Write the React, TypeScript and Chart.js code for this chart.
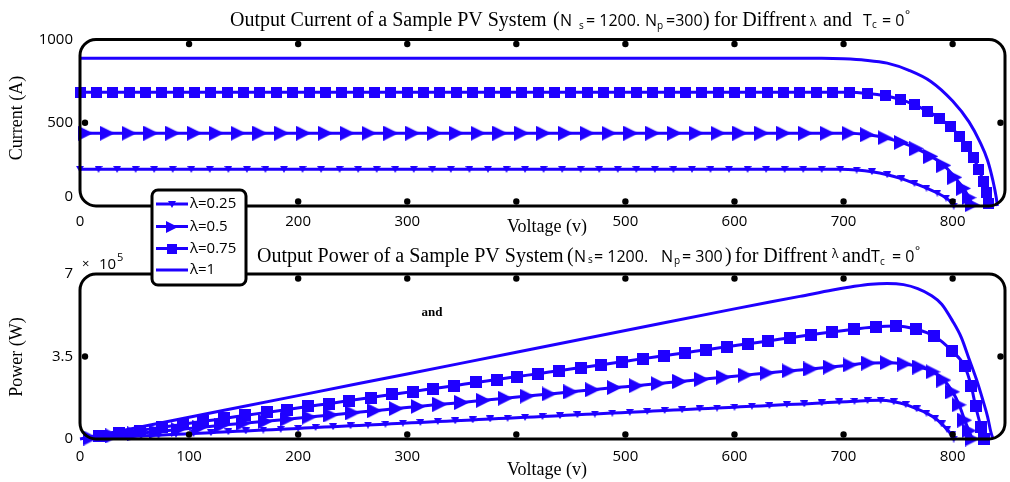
import { useEffect, useRef } from 'react';
import { Chart, registerables } from 'chart.js';

Chart.register(...registerables);

const BLUE = '#1f00ff';
const SERIF = '"Liberation Serif", "Times New Roman", serif';
const SANS = '"Open Sans", "Noto Sans", sans-serif';

const legendLabels = ['λ=0.25', 'λ=0.5', 'λ=0.75', 'λ=1'];

const X_MAX = 848;
const xTicks = [0, 100, 200, 300, 400, 500, 600, 700, 800];
const xTickLabels = ['0', '100', '200', '300', '', '500', '600', '700', '800'];
const currentTicks = [0, 500, 1000];
const currentTickLabels = ['0', '500', '1000'];
const powerTicks = [0, 3.5, 7];
const powerTickLabels = ['0', '3.5', '7'];

// ---------- Output current (A) vs voltage (V) ----------
const curV025 = [0, 17, 34, 51, 68, 85, 102, 119, 136, 153, 170, 187, 204, 221, 238, 255, 272, 289, 306, 323, 340, 357, 374, 391, 408, 425, 442, 459, 476, 493, 510, 527, 544, 561, 578, 595, 612, 629, 646, 663, 680, 697,
  712, 726, 740, 753, 765, 776, 786, 794, 799, 801];
const curI025 = [220, 220, 220, 220, 220, 220, 220, 220, 220, 220, 220, 220, 220, 220,
  220, 220, 220, 220, 220, 220, 220, 220, 220, 220, 220, 220, 220, 220,
  220, 220, 220, 220, 220, 220, 220, 220, 220, 220, 220, 220, 220, 220,
  216, 206, 188, 164, 136, 108, 78, 48, 20, 0];

const curV05 = [5, 25, 45, 65, 85, 105, 125, 145, 165, 185, 205, 225, 245, 265, 285, 305, 325, 345, 365, 385, 405, 425, 445, 465, 485, 505, 525, 545, 565, 585, 605, 625, 645, 665, 685, 705,
  722, 738, 753, 767, 780, 792, 802, 810, 815, 818];
const curI05 = [437, 437, 437, 437, 437, 437, 437, 437, 437, 437, 437, 437,
  437, 437, 437, 437, 437, 437, 437, 437, 437, 437, 437, 437,
  437, 437, 437, 437, 437, 437, 437, 437, 437, 437, 437, 437,
  428, 410, 382, 344, 298, 244, 172, 106, 50, 8];

const curV075 = [0, 15, 30, 45, 60, 75, 90, 105, 120, 135, 150, 165, 180, 195, 210, 225, 240, 255, 270, 285, 300, 315, 330, 345, 360, 375, 390, 405, 420, 435, 450, 465, 480, 495, 510, 525, 540, 555, 570, 585, 600, 615, 630, 645, 660, 675, 690, 705,
  722, 738, 752, 765, 777, 788, 798, 806, 813, 819, 824, 828, 831, 833];
const curI075 = [683, 683, 683, 683, 683, 683, 683, 683, 683, 683, 683, 683,
  683, 683, 683, 683, 683, 683, 683, 683, 683, 683, 683, 683,
  683, 683, 683, 683, 683, 683, 683, 683, 683, 683, 683, 683,
  683, 683, 683, 683, 683, 683, 683, 683, 683, 683, 683, 683,
  676, 662, 640, 608, 570, 526, 476, 420, 356, 290, 220, 150, 80, 15];

const curV1 = [0, 100, 200, 300, 400, 500, 600, 680, 700, 720, 740, 760, 780, 800, 815, 825, 832, 837, 840, 841];
const curI1 = [888, 888, 888, 888, 888, 888, 888, 887, 884, 876, 858, 815, 748, 630, 505, 385, 275, 150, 50, 0];

// ---------- Output power (x10^5 W) vs voltage (V) ----------
const powV025 = [8, 24, 40, 56, 72, 88, 104, 120, 136, 152, 168, 184, 200, 216, 232, 248, 264, 280, 296, 312, 328, 344, 360, 376, 392, 408, 424, 440, 456, 472, 488, 504, 520, 536, 552, 568, 584, 600, 616, 632, 648, 664, 680, 696,
  710, 722, 734, 746, 757, 767, 776, 784, 790, 795, 799, 801];
const powP025 = [0.02, 0.05, 0.09, 0.13, 0.16, 0.2, 0.23, 0.27, 0.31, 0.34, 0.38, 0.41, 0.45, 0.49, 0.52, 0.56, 0.59, 0.63, 0.67, 0.7, 0.74, 0.77, 0.81, 0.85, 0.88, 0.92, 0.95, 0.99, 1.03, 1.06, 1.1, 1.13, 1.17, 1.21, 1.24, 1.28, 1.31, 1.35, 1.39, 1.42, 1.46, 1.49, 1.53, 1.57,
  1.6, 1.63, 1.64, 1.58, 1.46, 1.28, 1.1, 0.88, 0.64, 0.4, 0.18, 0];

const powV05 = [10, 30, 50, 70, 90, 110, 130, 150, 170, 190, 210, 230, 250, 270, 290, 310, 330, 350, 370, 390, 410, 430, 450, 470, 490, 510, 530, 550, 570, 590, 610, 630, 650, 670,
  688, 706, 723, 740, 756, 770, 782, 792, 800, 806, 811, 815, 818];
const powP05 = [0.04, 0.13, 0.22, 0.31, 0.4, 0.49, 0.58, 0.67, 0.75, 0.84, 0.93, 1.02, 1.11, 1.2, 1.29, 1.38, 1.47, 1.55, 1.64, 1.73, 1.82, 1.91, 2.0, 2.09, 2.18, 2.26, 2.35, 2.44, 2.53, 2.62, 2.71, 2.8, 2.89, 2.97,
  3.05, 3.14, 3.22, 3.24, 3.18, 3.05, 2.85, 2.5, 2.0, 1.45, 0.8, 0.35, 0];

const powV075 = [17, 36, 55, 75, 94, 113, 132, 151, 171, 190, 209, 228, 247, 267, 286, 305, 324, 343, 363, 382, 401, 420, 439, 459, 478, 497, 516, 535, 555, 574, 593, 612, 631, 651, 670,
  689, 710, 730, 748, 766, 783, 799, 811, 817, 821, 826, 829];
const powP075 = [0.11, 0.24, 0.36, 0.5, 0.62, 0.75, 0.87, 1.0, 1.13, 1.25, 1.38, 1.5, 1.63, 1.76, 1.89, 2.01, 2.14, 2.26, 2.4, 2.52, 2.65, 2.77, 2.9, 3.03, 3.15, 3.28, 3.41, 3.53, 3.66, 3.79, 3.91, 4.04, 4.16, 4.3, 4.42,
  4.54, 4.66, 4.76, 4.79, 4.66, 4.37, 3.75, 3.08, 2.25, 1.4, 0.5, 0];

const powV1 = [0, 100, 200, 300, 400, 500, 600, 660, 690, 710, 725, 740, 755, 768, 780, 790, 800, 808, 815, 822, 828, 832, 835, 837];
const powP1 = [0, 0.92, 1.84, 2.76, 3.68, 4.6, 5.52, 6.05, 6.32, 6.48, 6.57, 6.6, 6.55, 6.38, 6.1, 5.72, 5.0, 4.3, 3.4, 2.5, 1.6, 0.95, 0.3, 0];

type Run = { t: string; x: number; y: number; f: string };

const topTitle: Run[] = [
  { t: 'Output Current of a Sample PV System', x: 230, y: 26, f: `20px ${SERIF}` },
  { t: '(', x: 553, y: 26, f: `20px ${SERIF}` },
  { t: 'N', x: 560, y: 26, f: `16px ${SANS}` },
  { t: 's', x: 579, y: 29, f: `10px ${SANS}` },
  { t: '= 1200.', x: 586, y: 26, f: `16px ${SANS}` },
  { t: 'N', x: 645, y: 26, f: `16px ${SANS}` },
  { t: 'p', x: 657, y: 29, f: `10px ${SANS}` },
  { t: '=300', x: 666, y: 26, f: `16px ${SANS}` },
  { t: ')', x: 703, y: 26, f: `20px ${SERIF}` },
  { t: 'for Diffrent', x: 714, y: 26, f: `20px ${SERIF}` },
  { t: 'λ', x: 810, y: 26, f: `12px ${SANS}` },
  { t: 'and', x: 823, y: 26, f: `20px ${SERIF}` },
  { t: 'T', x: 863, y: 26, f: `16px ${SANS}` },
  { t: 'c', x: 872, y: 28, f: `10px ${SANS}` },
  { t: '= 0', x: 882, y: 26, f: `16px ${SANS}` },
  { t: '°', x: 905, y: 19, f: `12px ${SANS}` },
];

const botTitle: Run[] = [
  { t: 'Output Power of a Sample PV System', x: 257, y: 262, f: `20px ${SERIF}` },
  { t: '(', x: 567, y: 262, f: `20px ${SERIF}` },
  { t: 'N', x: 574, y: 262, f: `16px ${SANS}` },
  { t: 's', x: 588, y: 263, f: `10px ${SANS}` },
  { t: '= 1200.', x: 594, y: 262, f: `16px ${SANS}` },
  { t: 'N', x: 661, y: 262, f: `16px ${SANS}` },
  { t: 'p', x: 674, y: 264, f: `10px ${SANS}` },
  { t: '= 300', x: 682, y: 262, f: `16px ${SANS}` },
  { t: ')', x: 725, y: 262, f: `20px ${SERIF}` },
  { t: 'for Diffrent', x: 735, y: 262, f: `20px ${SERIF}` },
  { t: 'λ', x: 832, y: 258, f: `12px ${SANS}` },
  { t: 'and', x: 842, y: 262, f: `20px ${SERIF}` },
  { t: 'T', x: 871, y: 262, f: `16px ${SANS}` },
  { t: 'c', x: 880, y: 265, f: `10px ${SANS}` },
  { t: '= 0', x: 892, y: 262, f: `16px ${SANS}` },
  { t: '°', x: 915, y: 255, f: `12px ${SANS}` },
];

function drawRuns(ctx: CanvasRenderingContext2D, runs: Run[]) {
  ctx.save();
  ctx.fillStyle = '#000';
  ctx.textAlign = 'left';
  ctx.textBaseline = 'alphabetic';
  for (const r of runs) {
    ctx.font = r.f;
    ctx.fillText(r.t, r.x, r.y);
  }
  ctx.restore();
}

function drawText(ctx: CanvasRenderingContext2D, t: string, x: number, y: number, font: string, rot = 0) {
  ctx.save();
  ctx.fillStyle = '#000';
  ctx.font = font;
  ctx.textAlign = 'center';
  ctx.textBaseline = 'middle';
  ctx.translate(x, y);
  if (rot) ctx.rotate(rot);
  ctx.fillText(t, 0, 0);
  ctx.restore();
}

function drawFrame(chart: any, yTickVals: number[]) {
  const { ctx, chartArea: a } = chart;
  const xs = chart.scales.x;
  const ys = chart.scales.y;
  ctx.save();
  ctx.strokeStyle = '#000';
  ctx.lineWidth = 3;
  ctx.beginPath();
  ctx.roundRect(a.left, a.top, a.right - a.left, a.bottom - a.top, 16);
  ctx.stroke();
  ctx.fillStyle = '#000';
  const dot = (x: number, y: number) => {
    ctx.beginPath();
    ctx.arc(x, y, 3.2, 0, Math.PI * 2);
    ctx.fill();
  };
  for (const v of xTicks) {
    const x = xs.getPixelForValue(v);
    if (x - a.left < 12 || a.right - x < 12) continue;
    dot(x, a.top + 4.5);
    dot(x, a.bottom - 4.5);
  }
  for (const v of yTickVals) {
    const y = ys.getPixelForValue(v);
    if (y - a.top < 12 || a.bottom - y < 12) continue;
    dot(a.left + 5, y);
    dot(a.right - 4.5, y);
  }
  ctx.restore();
}

function makeMarker(w: number, h: number, path: (g: CanvasRenderingContext2D) => void) {
  const c = document.createElement('canvas');
  c.width = w;
  c.height = h;
  const g = c.getContext('2d')!;
  g.fillStyle = BLUE;
  g.beginPath();
  path(g);
  g.fill();
  return c;
}

export default function App() {
  const topRef = useRef<HTMLCanvasElement>(null);
  const botRef = useRef<HTMLCanvasElement>(null);

  useEffect(() => {
    const triDown = makeMarker(8, 7, (g) => { g.moveTo(0, 0); g.lineTo(8, 0); g.lineTo(4, 7); g.closePath(); });
    const triRight = makeMarker(15, 15, (g) => { g.moveTo(0, 0); g.lineTo(15, 7.5); g.lineTo(0, 15); g.closePath(); });
    const sq11 = makeMarker(11, 11, (g) => g.rect(0, 0, 11, 11));
    const sq12 = makeMarker(12, 12, (g) => g.rect(0, 0, 12, 12));
    const legTri = makeMarker(12, 12, (g) => { g.moveTo(0, 0); g.lineTo(12, 6); g.lineTo(0, 12); g.closePath(); });
    const legSq = makeMarker(10, 10, (g) => g.rect(0, 0, 10, 10));

    const lineDs = (label: string, xs: number[], ys: number[], marker: any) => ({
      label,
      data: xs.map((x, i) => ({ x, y: ys[i] })),
      borderColor: BLUE,
      backgroundColor: BLUE,
      borderWidth: 3,
      pointStyle: marker || 'circle',
      pointRadius: marker ? 5 : 0,
      pointHoverRadius: 0,
      pointBorderWidth: 0,
      cubicInterpolationMode: 'monotone',
      clip: false,
    });

    const makeOptions = (padding: any, yMax: number, yVals: number[], yLabels: string[], xPad: number, liftZero: boolean) => ({
      responsive: false,
      maintainAspectRatio: false,
      animation: false,
      events: [],
      layout: { padding },
      plugins: { legend: { display: false }, title: { display: false }, tooltip: { enabled: false } },
      scales: {
        x: {
          type: 'linear',
          min: 0,
          max: X_MAX,
          grid: { display: false, drawTicks: false },
          border: { display: false },
          afterBuildTicks: (s: any) => { s.ticks = xTicks.map((v) => ({ value: v })); },
          afterFit: (s: any) => { s.height = 30; },
          ticks: {
            padding: xPad, color: '#000', font: { family: SANS, size: 15 },
            maxRotation: 0, autoSkip: false,
            callback: (_v: any, i: number) => xTickLabels[i],
          },
        },
        y: {
          type: 'linear',
          min: 0,
          max: yMax,
          grid: { display: false, drawTicks: false },
          border: { display: false },
          afterBuildTicks: (s: any) => { s.ticks = yVals.map((v) => ({ value: v })); },
          afterFit: (s: any) => { s.width = 80; },
          ticks: {
            padding: 7, color: '#000', font: { family: SANS, size: 15 }, autoSkip: false,
            callback: (_v: any, i: number) => (liftZero && i === 0 ? [yLabels[i], ''] : yLabels[i]),
          },
        },
      },
    });

    const topChart = new Chart(topRef.current!, {
      type: 'line',
      data: {
        datasets: [
          lineDs(legendLabels[0], curV025, curI025, triDown),
          lineDs(legendLabels[1], curV05, curI05, triRight),
          lineDs(legendLabels[2], curV075, curI075, sq11),
          lineDs(legendLabels[3], curV1, curI1, null),
        ] as any,
      },
      options: makeOptions({ top: 39.5, left: 0, right: 4, bottom: 246 }, 1000, currentTicks, currentTickLabels, 7, true) as any,
      plugins: [{
        id: 'topDeco',
        afterDatasetsDraw(chart: any) { drawFrame(chart, currentTicks); },
        afterDraw(chart: any) {
          const ctx = chart.ctx;
          drawRuns(ctx, topTitle);
          drawText(ctx, 'Current (A)', 17, 118, `18px ${SERIF}`, -Math.PI / 2);
          drawText(ctx, 'Voltage (v)', 547, 227, `18px ${SERIF}`);
        },
      }],
    });

    const botChart = new Chart(botRef.current!, {
      type: 'line',
      data: {
        datasets: [
          lineDs(legendLabels[0], powV025, powP025, triDown),
          lineDs(legendLabels[1], powV05, powP05, triRight),
          lineDs(legendLabels[2], powV075, powP075, sq12),
          lineDs(legendLabels[3], powV1, powP1, null),
        ] as any,
      },
      options: makeOptions({ top: 274, left: 0, right: 4, bottom: 13 }, 7, powerTicks, powerTickLabels, 9, false) as any,
      plugins: [{
        id: 'botDeco',
        afterDatasetsDraw(chart: any) { drawFrame(chart, powerTicks); },
        afterDraw(chart: any) {
          const ctx = chart.ctx;
          drawRuns(ctx, botTitle);
          drawText(ctx, 'Power (W)', 17, 357, `18px ${SERIF}`, -Math.PI / 2);
          drawText(ctx, 'Voltage (v)', 547, 470, `18px ${SERIF}`);
          drawRuns(ctx, [
            { t: '×', x: 82, y: 268, f: `13px ${SANS}` },
            { t: '10', x: 99, y: 269, f: `15px ${SANS}` },
            { t: '5', x: 117, y: 261, f: `11px ${SANS}` },
          ]);
          drawText(ctx, 'and', 432, 313, `bold 13px ${SERIF}`);

          // legend
          ctx.save();
          ctx.fillStyle = '#fff';
          ctx.strokeStyle = '#000';
          ctx.lineWidth = 3;
          ctx.beginPath();
          ctx.roundRect(152, 190, 94, 95, 6);
          ctx.fill();
          ctx.stroke();
          const rows = [204, 226.5, 248.5, 270];
          const marks = [triDown, legTri, legSq, null];
          chart.data.datasets.forEach((d: any, i: number) => {
            const y = rows[i];
            ctx.strokeStyle = BLUE;
            ctx.lineWidth = 3;
            ctx.beginPath();
            ctx.moveTo(156, y);
            ctx.lineTo(188, y);
            ctx.stroke();
            const m = marks[i];
            if (m) ctx.drawImage(m, Math.round(172 - m.width / 2), Math.round(y - m.height / 2));
            ctx.fillStyle = '#000';
            ctx.font = `15px ${SANS}`;
            ctx.textAlign = 'left';
            ctx.textBaseline = 'middle';
            ctx.fillText(d.label, 190, y);
          });
          ctx.restore();
        },
      }],
    });

    return () => {
      topChart.destroy();
      botChart.destroy();
    };
  }, []);

  return (
    <div style={{ position: 'absolute', left: 0, top: 0, width: 1010, height: 482, background: '#fff' }}>
      <canvas ref={topRef} width={1010} height={482} style={{ position: 'absolute', left: 0, top: 0 }} />
      <canvas ref={botRef} width={1010} height={482} style={{ position: 'absolute', left: 0, top: 0 }} />
    </div>
  );
}
